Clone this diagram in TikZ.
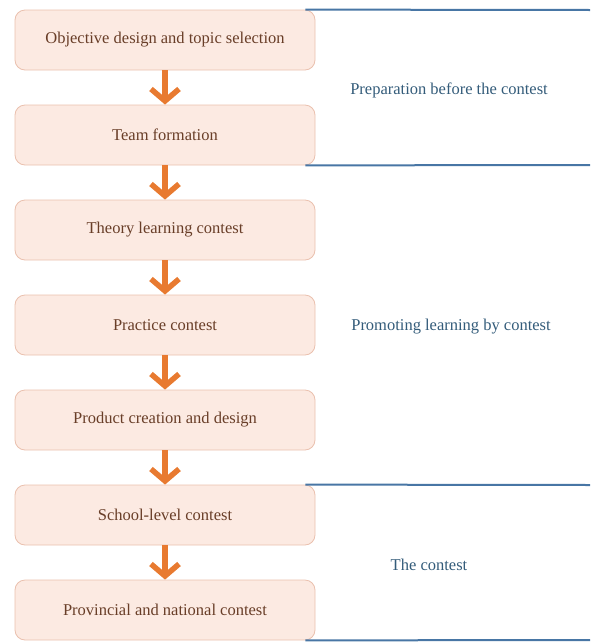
\documentclass[tikz,border=0pt]{standalone}
\usepackage{fontspec}
\setmainfont{Liberation Serif}
\usetikzlibrary{arrows.meta}

\definecolor{stagefill}{RGB}{252,234,226}
\definecolor{stageline}{RGB}{234,192,174}
\definecolor{stagetext}{RGB}{105,62,40}
\definecolor{flow}{RGB}{232,122,48}
\definecolor{phase}{RGB}{72,118,165}
\definecolor{phasetext}{RGB}{52,92,122}

\begin{document}
\begin{tikzpicture}[x=1pt, y=-1pt, every node/.style={font=\fontsize{16.5}{19}\selectfont}]

		\useasboundingbox (0,0) rectangle (590,643);
		\tikzset{stage/.style={draw=stageline, fill=stagefill, rounded corners=10pt, line width=0.8pt,
				minimum width=300pt, minimum height=60pt, text=stagetext}}
		\tikzset{flowarrow/.style={flow, line width=5.5pt, -{Straight Barb[length=12pt, width=28pt]}}}
		\tikzset{phaseline/.style={phase, line width=2pt}}

		% Stages
		\foreach \name/\y/\txt in {obj/40/Objective design and topic selection, team/135/Team formation,
				theory/230/Theory learning contest, practice/325/Practice contest,
				product/420/Product creation and design, school/515/School-level contest,
				province/610/Provincial and national contest}
			{\node[stage] (\name) at (165,\y) {\txt};}

		% Arrows between stages
		\foreach \a/\b in {obj/team, team/theory, theory/practice, practice/product, product/school, school/province}
			{\draw[flowarrow] (\a.south) -- (\b.north);}

		% Phase borders
		\coordinate (e1) at (590,10);
		\coordinate (e2) at (590,165);
		\coordinate (e3) at (590,485);
		\coordinate (e4) at (590,640);
		\draw[phaseline] ([xshift=-10pt]obj.north east) -- (e1);
		\draw[phaseline] ([xshift=-10pt]team.south east) -- (e2);
		\draw[phaseline] ([xshift=-10pt]school.north east) -- (e3);
		\draw[phaseline] ([xshift=-10pt]province.south east) -- (e4);

		% Phase labels
		\node[text=phasetext] (prep) at (449,90) {Preparation before the contest};
		\node[text=phasetext] (promo) at (451,327) {Promoting learning by contest};
		\node[text=phasetext] (final) at (429,565) {The contest};
	\end{tikzpicture}
\end{document}
